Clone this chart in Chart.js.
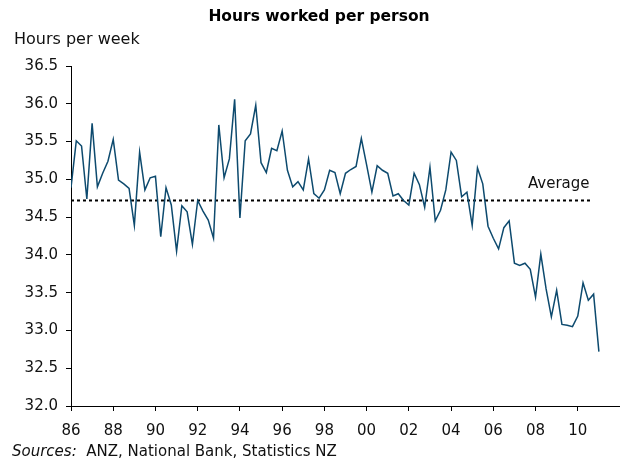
<!DOCTYPE html>
<html>
<head>
<meta charset="utf-8">
<script src="https://cdn.jsdelivr.net/npm/chart.js@4.4.1/dist/chart.umd.min.js"></script>
<style>
  body { margin: 0; background: #fff; }
  #wrap { position: relative; width: 620px; height: 461px; font-family: "DejaVu Sans", Verdana, sans-serif; color: #111; }
  #wrap canvas { position: absolute; left: 0; top: 0; }
  .txt { position: absolute; white-space: nowrap; }
  #title { left: 0; width: 638px; text-align: center; top: 9px; font-size: 15.5px; line-height: 15px; font-weight: bold; color: #000; }
  #unit { left: 14px; top: 31px; font-size: 16px; line-height: 16px; }
  #source { left: 12px; top: 444px; font-size: 15px; line-height: 15px; }
</style>
</head>
<body>
<div id="wrap">
  <canvas id="chart" width="620" height="461"></canvas>
  <div class="txt" id="title">Hours worked per person</div>
  <div class="txt" id="unit">Hours per week</div>
  <div class="txt" id="source"><i>Sources:</i>&nbsp; ANZ, National Bank, Statistics NZ</div>
</div>
<script>
// quarterly series, starting 1986 Q1
const startYear = 1986;
const hours = [
  34.89, 35.51, 35.44, 34.74, 35.74, 34.90, 35.08, 35.24, 35.53, 34.99,
  34.94, 34.88, 34.39, 35.36, 34.86, 35.02, 35.04, 34.24, 34.89, 34.66,
  34.05, 34.65, 34.57, 34.14, 34.72, 34.58, 34.46, 34.22, 35.72, 35.02,
  35.27, 36.06, 34.49, 35.51, 35.60, 35.98, 35.22, 35.09, 35.41, 35.38,
  35.64, 35.12, 34.90, 34.97, 34.86, 35.27, 34.81, 34.75, 34.86, 35.12,
  35.09, 34.81, 35.08, 35.13, 35.17, 35.54, 35.19, 34.83, 35.18, 35.12,
  35.08, 34.78, 34.81, 34.72, 34.66, 35.08, 34.93, 34.63, 35.16, 34.45,
  34.59, 34.86, 35.36, 35.25, 34.77, 34.83, 34.39, 35.15, 34.94, 34.38,
  34.22, 34.08, 34.36, 34.45, 33.89, 33.86, 33.89, 33.81, 33.44, 34.01,
  33.55, 33.18, 33.53, 33.08, 33.07, 33.05, 33.19, 33.63, 33.40, 33.48,
  32.72
];
const average = 34.72;
const averageSpan = [1986, 2010.6];
const averageLabel = 'Average';
const yTicks = [32.0, 32.5, 33.0, 33.5, 34.0, 34.5, 35.0, 35.5, 36.0, 36.5];
const xTickYears = [1986, 1988, 1990, 1992, 1994, 1996, 1998, 2000, 2002, 2004, 2006, 2008, 2010];

const seriesPoints = hours.map((v, i) => ({ x: startYear + i / 4, y: v }));
const averagePoints = averageSpan.map(yr => ({ x: yr, y: average }));

const tickFont = { family: '"DejaVu Sans", Verdana, sans-serif', size: 15 };

// "Average" text sitting above the dotted line
const averageText = {
  id: 'averageText',
  afterDatasetsDraw(chart) {
    const { ctx, scales } = chart;
    const x = scales.x.getPixelForValue(2009.1);
    const y = scales.y.getPixelForValue(average) - 12;
    ctx.save();
    ctx.font = '15px "DejaVu Sans", Verdana, sans-serif';
    ctx.fillStyle = '#111';
    ctx.textAlign = 'center';
    ctx.textBaseline = 'alphabetic';
    ctx.fillText(averageLabel, x, y);
    ctx.restore();
  }
};

new Chart(document.getElementById('chart'), {
  type: 'line',
  data: {
    datasets: [
      {
        data: seriesPoints,
        borderColor: '#0d4a6e',
        borderWidth: 1.5,
        pointRadius: 0,
        tension: 0
      },
      {
        data: averagePoints,
        borderColor: '#000',
        borderWidth: 2,
        borderDash: [3, 3],
        pointRadius: 0
      }
    ]
  },
  options: {
    responsive: false,
    animation: false,
    events: [],
    layout: { padding: { top: 66, right: 0, left: 0, bottom: 15 } },
    plugins: { legend: { display: false }, tooltip: { enabled: false } },
    scales: {
      x: {
        type: 'linear',
        min: 1986,
        max: 2012,
        afterBuildTicks: (s) => { s.ticks = xTickYears.map(v => ({ value: v })); },
        afterFit: (s) => { s.height = 40; },
        ticks: {
          color: '#111',
          font: tickFont,
          padding: 11,
          maxRotation: 0,
          autoSkip: false,
          callback: (v) => String(v % 100).padStart(2, '0')
        },
        grid: { drawOnChartArea: false, drawTicks: true, tickLength: 5, color: '#000' },
        border: { color: '#000', width: 1 }
      },
      y: {
        min: 32,
        max: 36.5,
        afterBuildTicks: (s) => { s.ticks = yTicks.map(v => ({ value: v })); },
        afterFit: (s) => { s.width = 71; },
        ticks: {
          color: '#111',
          font: tickFont,
          padding: 8,
          callback: (v) => v.toFixed(1)
        },
        grid: { drawOnChartArea: false, drawTicks: true, tickLength: 5, color: '#000' },
        border: { color: '#000', width: 1 }
      }
    }
  },
  plugins: [averageText]
});
</script>
</body>
</html>
